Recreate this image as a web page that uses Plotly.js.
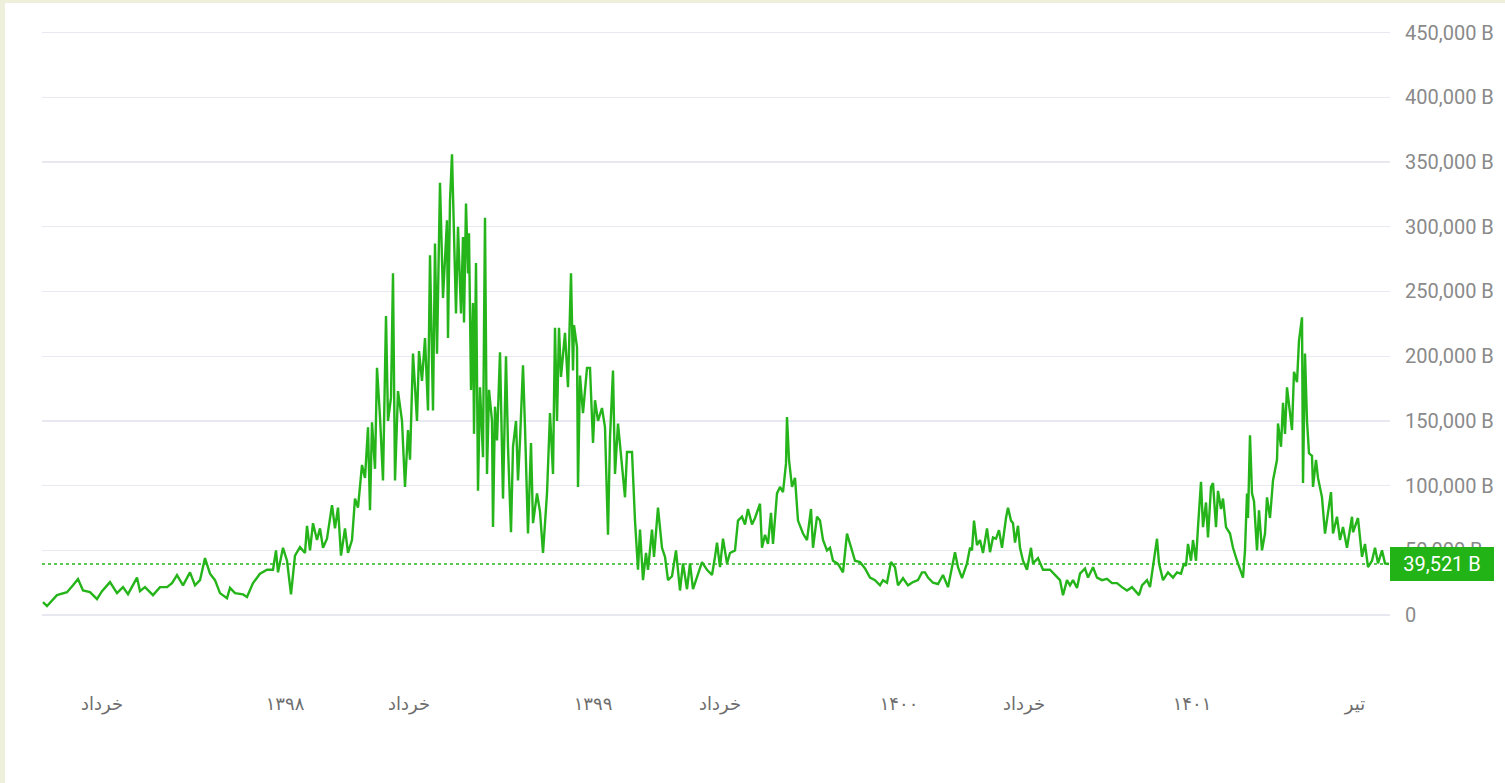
<!DOCTYPE html>
<html>
<head>
<meta charset="utf-8">
<script src="https://cdn.plot.ly/plotly-3.0.1.min.js"></script>
<style>
html,body{margin:0;padding:0;background:#eef0dc;}
#wrap{position:absolute;left:5px;top:3px;width:1500px;height:780px;background:#fff;}
#chart{width:1500px;height:780px;}
</style>
</head>
<body>
<div id="wrap"><div id="chart"></div></div>
<script>
// day offset from start of series
const day = [1,5,15,25,31,36,41,48,55,60,68,75,81,86,95,98,103,111,118,125,130,135,141,148,153,158,163,168,173,178,185,188,193,201,205,211,218,225,231,234,236,241,245,249,253,258,263,265,268,271,275,278,281,285,290,293,296,299,303,306,310,313,316,320,323,326,328,330,333,335,338,341,344,346,349,351,353,356,360,363,366,368,371,375,377,380,383,386,388,391,393,395,398,401,403,405,406,408,410,413,414,416,419,421,422,424,426,427,429,431,432,434,436,438,441,442,443,445,447,450,451,453,455,458,461,464,466,469,471,474,476,478,481,483,486,489,491,495,498,501,505,508,511,513,515,517,519,523,526,529,531,532,535,536,538,541,545,548,551,553,556,560,563,566,568,571,573,576,580,583,585,590,593,596,598,601,604,606,610,612,616,620,623,626,630,634,638,641,645,648,651,655,660,665,670,673,675,678,681,685,688,693,696,700,703,706,710,713,718,720,723,726,729,731,735,738,741,744,745,747,750,753,756,761,765,769,771,775,778,781,785,788,791,796,801,805,809,813,818,823,828,833,838,841,845,849,853,856,861,866,871,876,880,883,886,891,896,901,906,910,913,916,920,925,928,930,932,935,938,941,945,948,951,954,957,960,962,964,966,969,971,973,976,978,981,985,989,991,996,1001,1008,1015,1018,1021,1025,1028,1031,1035,1038,1043,1046,1051,1055,1060,1065,1070,1075,1080,1085,1090,1095,1097,1100,1105,1108,1111,1115,1117,1121,1126,1131,1135,1139,1142,1144,1146,1149,1151,1154,1156,1159,1161,1164,1166,1169,1171,1174,1176,1179,1181,1184,1188,1191,1195,1198,1201,1203,1205,1206,1208,1210,1212,1215,1217,1220,1223,1225,1228,1231,1235,1236,1239,1241,1243,1245,1248,1250,1252,1255,1257,1260,1261,1263,1265,1267,1270,1271,1274,1276,1280,1283,1286,1289,1291,1295,1298,1301,1305,1310,1311,1316,1320,1323,1326,1330,1333,1336,1340,1343,1347];

// price in thousand B
const price = [10,7,15.4,17.7,23,27.8,19,17.7,12.3,18.5,25.5,17,21.6,16.2,29,18.5,21.6,15.4,21.6,21.6,24.7,30.9,23,33,23,27,44,32,27,17,13,21,17,16,14,24.7,32,35,35,50,33,52,42,16,46,52.5,48,69,50,71,58,67,52,59,85,67,83,46,67,48,58,90,83,116,106,145,81,149,113,191,153,104,231,150,168,264,104,173,150,99,143,120,202,150,204,181,214,158,278,158,287,202,334,245,275,305,214,320,356,258,233,300,233,292,226,318,264,295,174,241,140,272,96,176,122,220,307,109,174,150,68,161,135,203,90,200,130,64,130,150,104,135,193,145,63,133,71,94,80,48,94,156,109,222,150,222,184,218,176,264,189,224,207,99,185,156,191,191,133,166,150,160,145,62,137,189,109,148,117,91,126,126,73,35,66,27,48,35,66,45,83,52,45,27,30,50,19,40,20,40,20,29,41,35,31,45,56,37,59,40,48,50,73,76,70,82,70,75,86,52,62,55,79,55,94,99,95,117,153,120,99,106,73,63,58,82,52,76,73,58,50,52,42,39.5,33,63,52,42,41,36,29,27,23,27,25,41,37,23,28.5,23,25.5,27,33,33,29,25,24,31,21.6,37,48.6,37,28.5,40,52,50,73,54,58,48,67,48.6,60,59,65.6,52,65,75,83,73,71,56,69,52,42,35,52,40,44,35,35,29,27,15.4,27,23,27,21,32,36,29,37,29,27,28,24.7,24.7,21.6,19,21.6,17.7,15.4,23,27,21.6,37,59,40,27,33,29,33,32,40,38,55,42,58,42,68,103,68,87,60,99,102,68,96,82,90,68,63,52,42,35,29,50,94,75,139,94,88,50,81,50,63,91,75,104,120,148,130,164,140,176,156,143,188,180,212,230,102,202,150,125,123,99,120,106,91,63,79,95,63,76,58,68,52,76,64,75,45,55,37,42,52,40,50,40,39.521];

const tickDays = [60,243,367,551,678,857,982,1150,1313];
const tickLabels = ['خرداد','۱۳۹۸','خرداد','۱۳۹۹','خرداد','۱۴۰۰','خرداد','۱۴۰۱','تیر'];
const yTicks = [0,50,100,150,200,250,300,350,400,450];
const yLabels = ['0','50,000 B','100,000 B','150,000 B','200,000 B','250,000 B','300,000 B','350,000 B','400,000 B','450,000 B'];
const lastValue = 39.521;
const lastLabel = '39,521 B';

const green = '#25b51b';

const trace = {
  x: day, y: price, type: 'scatter', mode: 'lines',
  line: {color: green, width: 2.4},
  hoverinfo: 'skip'
};

const layout = {
  width: 1500, height: 780,
  margin: {l: 37, r: 115, t: 27, b: 98},
  paper_bgcolor: '#ffffff', plot_bgcolor: '#ffffff',
  showlegend: false,
  xaxis: {
    range: [0, 1348], showgrid: false, zeroline: false, showline: false,
    ticks: '', tickvals: tickDays, ticktext: tickLabels,
    tickfont: {family: 'DejaVu Sans', size: 18, color: '#6e6e6e'},
    ticklabelstandoff: 6, fixedrange: true
  },
  yaxis: {
    side: 'right', range: [-54, 452], tickvals: yTicks, ticktext: yLabels,
    showgrid: true, gridcolor: '#e8e8f0', gridwidth: 1.2, zeroline: false, showline: false,
    ticks: '', tickfont: {family: 'Roboto', size: 20, color: '#8a8a8a'},
    ticklabelstandoff: 14, fixedrange: true
  },
  shapes: [{
    type: 'line', xref: 'paper', x0: 0, x1: 1, yref: 'y', y0: lastValue, y1: lastValue,
    line: {color: green, width: 1.6, dash: 'dot'}
  }],
  annotations: [{
    xref: 'paper', x: 1, xanchor: 'left', yref: 'y', y: lastValue, yanchor: 'middle',
    text: lastLabel, showarrow: false, bgcolor: '#22b316', borderpad: 2, borderwidth: 0,
    width: 100, height: 30, align: 'center',
    font: {family: 'Roboto', size: 20, color: '#ffffff'}
  }]
};

Plotly.newPlot('chart', [trace], layout, {displayModeBar: false, staticPlot: true});
</script>
</body>
</html>
